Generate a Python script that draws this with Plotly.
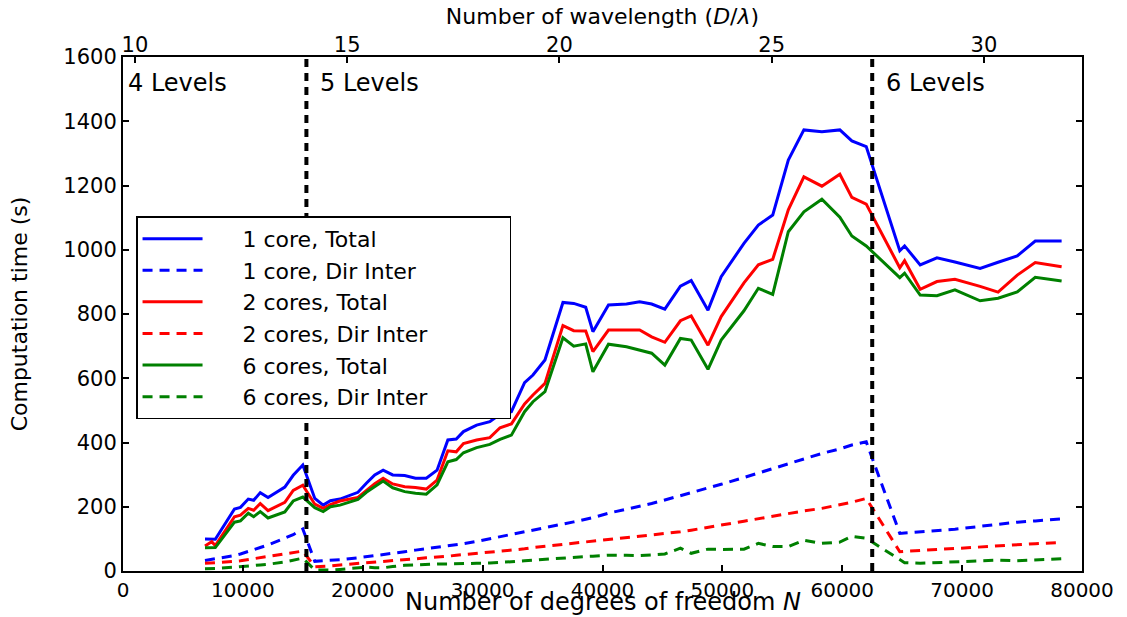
import plotly.graph_objects as go

# Number of degrees of freedom N (shared by every series)
N = [6840, 7400, 7700, 9300, 9800, 10450, 10900, 11450, 12100, 13500, 14200, 15000,
     16000, 16700, 17300, 18100, 19600, 20300, 21000, 21700, 22500, 23500,
     24400, 25300, 26200, 27100, 27800, 28400, 29500, 30600, 31450, 32400,
     33500, 34200, 35200, 36700, 37600, 38600, 39200, 40500, 42000, 43100,
     44100, 45200, 46500, 47400, 48800, 49900, 51800, 53000, 54200, 55500,
     56800, 58300, 59800, 60800, 62000,
     64800, 65200, 66500, 67900, 69400, 71500, 73000, 74600, 76100, 78300]

core1_total = [100, 99, 99, 193, 198, 224, 220, 244, 229, 261, 298, 330,
               226, 205, 219, 224, 245, 273, 299, 314, 299, 297,
               289, 289, 314, 408, 411, 434, 454, 465, 488, 496,
               586, 610, 657, 836, 833, 821, 745, 828, 831, 838,
               831, 815, 887, 904, 812, 916, 1020, 1077, 1108, 1279,
               1373, 1367, 1373, 1339, 1321,
               997, 1012, 953, 975, 962, 942, 961, 981, 1027, 1027]

core1_dir = [33, 36, 38, 48, 53, 60, 66, 73, 81, 102, 113, 131,
             30, 32, 33, 35, 41, 44, 48, 51, 55, 60,
             65, 69, 73, 77, 81, 85, 92, 100, 106, 113,
             122, 127, 135, 146, 153, 161, 166, 180, 192, 201,
             210, 221, 234, 243, 257, 270, 291, 305, 320, 335,
             350, 366, 380, 392, 402,
             117, 118, 121, 125, 130, 139, 146, 152, 156, 162]

core2_total = [78, 91, 79, 169, 174, 195, 189, 210, 188, 214, 251, 267,
               208, 195, 207, 218, 229, 252, 272, 289, 271, 262,
               260, 255, 283, 374, 371, 397, 408, 415, 446, 458,
               520, 548, 584, 764, 748, 747, 683, 750, 750, 750,
               729, 712, 779, 794, 703, 792, 897, 953, 970, 1124,
               1227, 1198, 1235, 1163, 1142,
               944, 966, 877, 901, 908, 886, 868, 921, 960, 947]

core2_dir = [24, 25, 26, 30, 32, 36, 38, 41, 45, 54, 58, 62,
             13, 14, 16, 19, 23, 25, 27, 29, 32, 35,
             38, 41, 43, 46, 49, 51, 55, 58, 61, 65,
             69, 73, 77, 82, 86, 89, 91, 96, 102, 107,
             112, 117, 122, 127, 135, 143, 155, 163, 171, 179,
             187, 195, 206, 214, 226,
             60, 61, 63, 67, 70, 75, 79, 82, 85, 89]

core6_total = [72, 73, 73, 152, 156, 180, 169, 185, 165, 184, 218, 230,
               197, 185, 200, 205, 223, 245, 263, 280, 259, 247,
               242, 239, 268, 340, 347, 368, 384, 394, 410, 423,
               496, 527, 558, 726, 700, 707, 620, 706, 698, 688,
               678, 641, 724, 719, 628, 719, 810, 880, 861, 1056,
               1118, 1157, 1101, 1043, 1012,
               913, 927, 859, 857, 875, 841, 849, 869, 914, 903]

core6_dir = [7, 7, 8, 12, 13, 16, 17, 19, 21, 28, 33, 40,
             3, 2, 3, 5, 11, 12, 10, 10, 14, 18,
             19, 21, 22, 22, 22, 23, 24, 25, 26, 29,
             32, 34, 37, 39, 42, 45, 46, 49, 49, 48,
             50, 53, 71, 55, 68, 67, 68, 86, 76, 76,
             96, 86, 90, 108, 102,
             34, 26, 24, 26, 30, 33, 34, 32, 34, 38]

series_names = ["1 core, Total", "1 core, Dir Inter",
                "2 cores, Total", "2 cores, Dir Inter",
                "6 cores, Total", "6 cores, Dir Inter"]
series_values = [core1_total, core1_dir, core2_total, core2_dir, core6_total, core6_dir]
series_colors = ["#0000ff", "#0000ff", "#ff0000", "#ff0000", "#008000", "#008000"]
series_dash = ["solid", "10px,7px", "solid", "10px,7px", "solid", "10px,7px"]

level_boundaries = [15300, 62500]
level_labels = ["4 Levels", "5 Levels", "6 Levels"]
level_label_x = [0, 15300, 62500]

x_ticks = [0, 10000, 20000, 30000, 40000, 50000, 60000, 70000, 80000]
y_ticks = [0, 200, 400, 600, 800, 1000, 1200, 1400, 1600]
wave_ticks = [10, 15, 20, 25, 30]
wave_range = [9.72, 32.31]

FONT = "DejaVu Sans"
NBSP = "\u00a0"

fig = go.Figure()
for name, vals, col, dash in zip(series_names, series_values, series_colors, series_dash):
    fig.add_trace(go.Scatter(x=N, y=vals, mode="lines",
                             name=NBSP * 5 + name + NBSP * 11,
                             line=dict(color=col, width=3, dash=dash)))

# invisible helper trace so the top (wavelength) axis is drawn
fig.add_trace(go.Scatter(x=wave_range, y=[None, None], xaxis="x2", yaxis="y",
                         mode="lines", showlegend=False, hoverinfo="skip"))

for xb in level_boundaries:
    fig.add_shape(type="line", xref="x", yref="paper", x0=xb, x1=xb, y0=0, y1=1,
                  line=dict(color="black", width=4, dash="8px,6px"), layer="above")

for lab, lx in zip(level_labels, level_label_x):
    fig.add_annotation(x=lx, y=0.95, xref="x", yref="paper", text=lab, showarrow=False,
                       xanchor="left", yanchor="middle", xshift=3 if lx == 0 else 12,
                       font=dict(family=FONT, size=24, color="black"))

# bottom axis title
fig.add_annotation(x=0.5, y=0, xref="paper", yref="paper",
                   text="Number of degrees of freedom <i>N</i>", showarrow=False,
                   xanchor="center", yanchor="bottom", yshift=-46, borderpad=0,
                   font=dict(family=FONT, size=24, color="black"))

fig.update_layout(
    width=1127, height=617,
    margin=dict(l=123, r=45, t=57, b=46),
    paper_bgcolor="white", plot_bgcolor="white",
    font=dict(family=FONT, color="black"),
    showlegend=True,
    legend=dict(x=0.0136, y=0.69, xanchor="left", yanchor="top",
                bgcolor="white", bordercolor="black", borderwidth=1.5,
                font=dict(family=FONT, size=22, color="black"),
                itemwidth=60, tracegroupgap=0),
    xaxis=dict(range=[0, 80000], tickvals=x_ticks, ticktext=[str(v) for v in x_ticks],
               ticks="inside", ticklen=6, tickwidth=1.5, tickcolor="black",
               showline=True, linecolor="black", linewidth=2, mirror=True,
               showgrid=False, zeroline=False, automargin=False,
               tickfont=dict(family=FONT, size=20, color="black")),
    xaxis2=dict(overlaying="x", side="top", anchor="y", range=wave_range,
                tickvals=wave_ticks, ticks="inside", ticklen=6, tickwidth=1.5,
                tickcolor="black", showline=False, showgrid=False, zeroline=False,
                automargin=False,
                tickfont=dict(family=FONT, size=21, color="black"),
                title=dict(text="Number of wavelength (<i>D</i>/<i>λ</i>)",
                           font=dict(family=FONT, size=22, color="black"), standoff=2)),
    yaxis=dict(range=[0, 1600], tickvals=y_ticks, ticks="inside", ticklen=6,
               tickwidth=1.5, tickcolor="black", showline=True, linecolor="black",
               linewidth=2, mirror="ticks", showgrid=False, zeroline=False,
               automargin=False,
               tickfont=dict(family=FONT, size=21, color="black"),
               title=dict(text="Computation time (s)",
                          font=dict(family=FONT, size=22, color="black"), standoff=30)),
)

fig.write_html("out.html", config={"displayModeBar": False},
               post_script="document.body.style.margin='0';"
                           "document.documentElement.style.overflow='hidden';")
